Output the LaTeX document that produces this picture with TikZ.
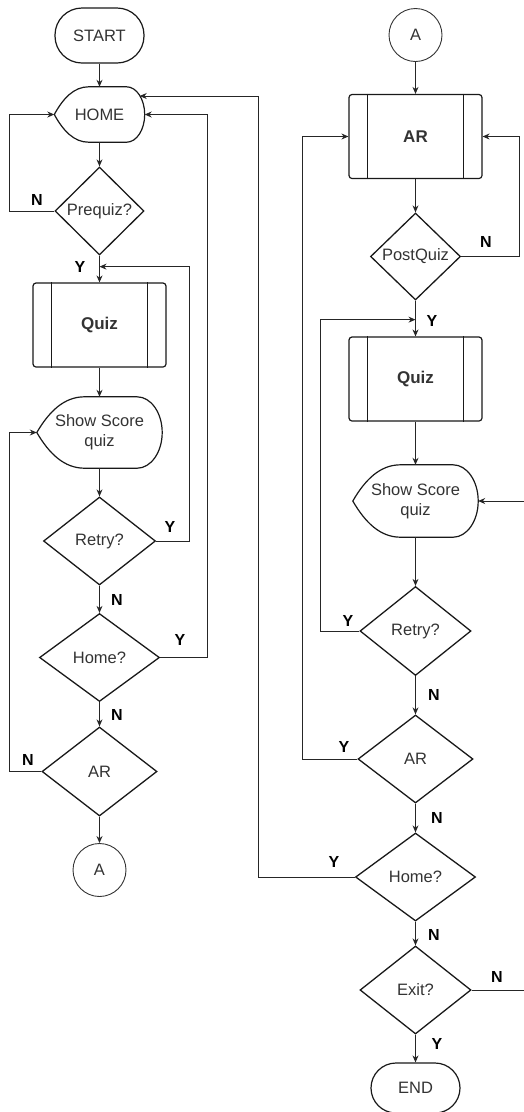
\documentclass[tikz,border=0pt]{standalone}
\usepackage{fontspec}
\setmainfont{Liberation Sans}
\usetikzlibrary{shapes.geometric,arrows.meta,calc}

\begin{document}
\begin{tikzpicture}[
  x=1pt, y=-1pt,
  every node/.style={text=black!80, font=\fontsize{16.5}{20}\selectfont},
  shp/.style={draw=black!90, line width=1.2pt},
  term/.style={shp, rounded corners=27pt, minimum width=89pt, minimum height=55pt},
  disp/.style={inner sep=0pt},
  dec/.style={shp, diamond, inner sep=0pt, line width=1.3pt},
  proc/.style={shp, rounded corners=3pt, minimum width=133pt, minimum height=84pt,
               font=\fontsize{17}{20}\selectfont\bfseries},
  conn/.style={draw=black!80, circle, line width=0.9pt, minimum size=53pt, inner sep=0pt},
  lbl/.style={text=black, font=\fontsize{16}{18}\selectfont\bfseries},
  arr/.style={-{Stealth[length=7pt,width=6pt]}, draw=black!85, line width=0.9pt}
]
\clip (0,0) rectangle (524,1112);
% ---- left column ----
\node[term] (start) at (99.5,35.5) {START};
\node[disp, minimum width=90pt, minimum height=55pt] (home) at (99.5,114.5) {HOME};
\node[dec, minimum width=89pt, minimum height=88pt] (prequiz) at (99.5,211) {Prequiz?};
\node[proc] (quizL) at (99.5,325) {Quiz};
\node[disp, minimum width=125pt, minimum height=71pt, align=center] (scoreL) at (99.5,432.5) {Show Score\\quiz};
\node[dec, minimum width=112pt, minimum height=88pt] (retryL) at (99.5,541) {Retry?};
\node[dec, minimum width=120pt, minimum height=88pt] (homeqL) at (99.5,657.5) {Home?};
\node[dec, minimum width=115pt, minimum height=89pt] (arL) at (99.5,771.5) {AR};
\node[conn] (aL) at (99.5,870) {A};
% ---- right column ----
\node[conn] (aR) at (415.5,35) {A};
\node[proc] (arbox) at (415.5,136.5) {AR};
\node[dec, minimum width=90pt, minimum height=87pt] (postquiz) at (415.5,256.5) {PostQuiz};
\node[proc] (quizR) at (415.5,379) {Quiz};
\node[disp, minimum width=125pt, minimum height=72pt, align=center] (scoreR) at (415.5,501) {Show Score\\quiz};
\node[dec, minimum width=111pt, minimum height=89pt] (retryR) at (415.5,631) {Retry?};
\node[dec, minimum width=115pt, minimum height=88pt] (arR) at (415.5,759) {AR};
\node[dec, minimum width=120pt, minimum height=88pt] (homeqR) at (415.5,877) {Home?};
\node[dec, minimum width=111pt, minimum height=88pt] (exit) at (415.5,990) {Exit?};
\node[term, minimum height=50pt, rounded corners=25pt] (end) at (415.5,1088) {END};

% display outlines (HOME, Show Score)
\foreach \nd in {home,scoreL,scoreR}{
  \draw[shp] let \p1=(\nd.north west), \p2=(\nd.south east), \n1={\x2-\x1}, \n2={\y1-\y2} in
    (\x1,{0.5*(\y1+\y2)}) .. controls ({\x1+0.1*\n1},{\y1-0.2*\n2}) and ({\x1+0.22*\n1},\y1) .. ({\x1+0.38*\n1},\y1)
    -- ({\x2-0.2*\n1},\y1) .. controls ({\x2-0.09*\n1},\y1) and (\x2,{\y1-0.224*\n2}) .. (\x2,{0.5*(\y1+\y2)})
    .. controls (\x2,{\y2+0.224*\n2}) and ({\x2-0.09*\n1},\y2) .. ({\x2-0.2*\n1},\y2)
    -- ({\x1+0.38*\n1},\y2) .. controls ({\x1+0.22*\n1},\y2) and ({\x1+0.1*\n1},{\y2+0.2*\n2}) .. cycle;
}
% side bars of the process boxes
\foreach \nd in {quizL,arbox,quizR}{
  \draw[shp, line width=0.9pt] ([xshift=19.5pt]\nd.north west) -- ([xshift=19.5pt]\nd.south west);
  \draw[shp, line width=0.9pt] ([xshift=-19.5pt]\nd.north east) -- ([xshift=-19.5pt]\nd.south east);
}

% join points
\coordinate (jL) at ([yshift=-11pt]prequiz.south);
\coordinate (jR) at ([yshift=-19pt]postquiz.south);
\coordinate (homeTR) at ([xshift=-5pt,yshift=18.5pt]home.east);

% ---- straight flow ----
\foreach \a/\b in {start/home, home/prequiz, prequiz/quizL, quizL/scoreL, scoreL/retryL,
                   retryL/homeqL, homeqL/arL, arL/aL,
                   aR/arbox, arbox/postquiz, postquiz/quizR, quizR/scoreR, scoreR/retryR,
                   retryR/arR, arR/homeqR, homeqR/exit, exit/end}
  \draw[arr] (\a) -- (\b);

% ---- loops ----
\draw[arr] (prequiz.west) -- ++(-45,0) |- (home.west);
\draw[arr] (retryL.east) -- ++(33,0) |- (jL);
\draw[arr] (homeqL.east) -- ++(47,0) |- (home.east);
\draw[arr] (arL.west) -- ++(-32,0) |- (scoreL.west);
\draw[arr] (homeqR.west) -- ++(-96,0) |- (homeTR);
\draw[arr] (postquiz.east) -- ++(58,0) |- (arbox.east);
\draw[arr] (retryR.west) -- ++(-39,0) |- (jR);
\draw[arr] (arR.west) -- ++(-55,0) |- (arbox.west);
\draw[arr] (exit.east) -- ++(56,0) |- (scoreR.east);

% ---- Y / N labels ----
\foreach \nm/\px/\py/\t in {lPn/37/200/N, lPy/80/267/Y, lRLy/170/527/Y, lRLn/117/600/N,
                            lHLy/180/640/Y, lHLn/117/715/N, lALn/28/760/N,
                            lQn/486/242/N, lQy/432/321/Y, lRRy/348/621/Y, lRRn/434/695/N,
                            lARy/344/747/Y, lARn/437/818/N, lHRy/334/862/Y, lHRn/434/935/N,
                            lEn/497/977/N, lEy/437/1044/Y}
  \node[lbl] (\nm) at (\px,\py) {\t};
\end{tikzpicture}
\end{document}
